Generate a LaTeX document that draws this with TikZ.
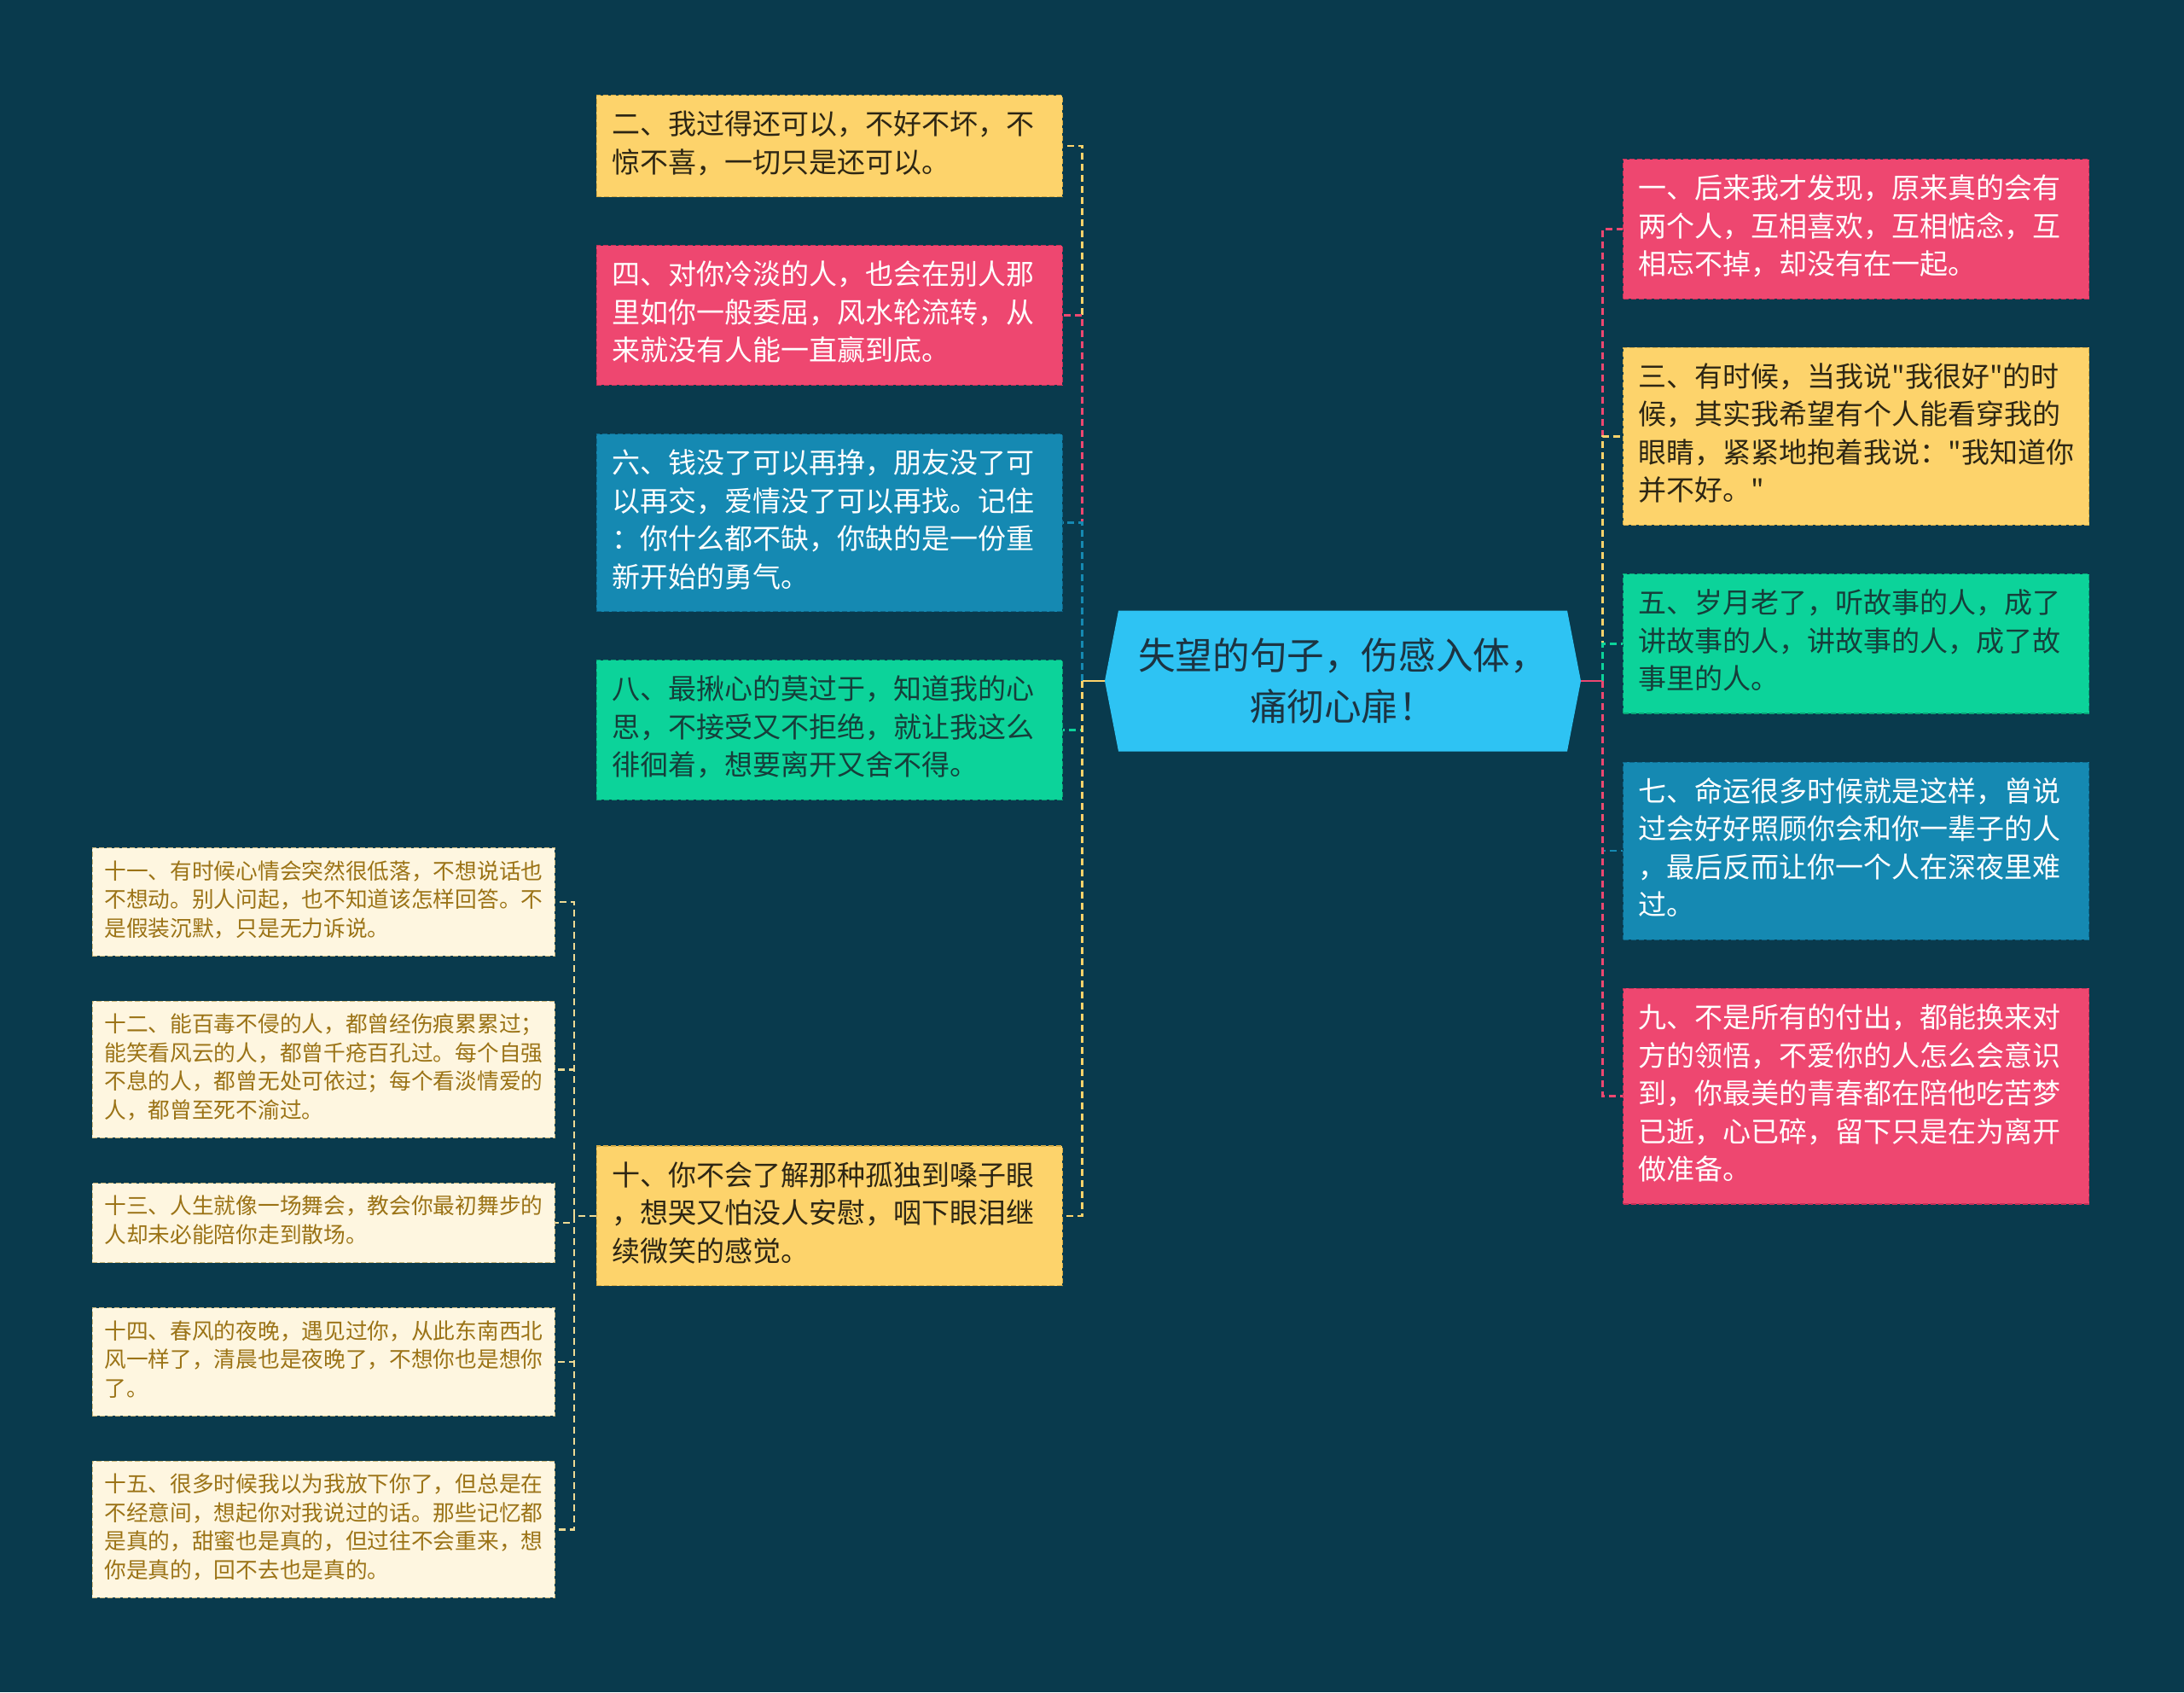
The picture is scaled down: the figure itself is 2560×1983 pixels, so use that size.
\documentclass[tikz,border=0pt]{standalone}
\usepackage{fontspec}
\setmainfont{Noto Sans CJK SC}[Ligatures=TeXOff]
\usetikzlibrary{positioning}

\definecolor{bg}{RGB}{9,58,77}
\definecolor{sky}{RGB}{46,195,243}
\definecolor{skytext}{RGB}{28,52,66}
\definecolor{yel}{RGB}{253,211,107}
\definecolor{yelline}{RGB}{214,172,70}
\definecolor{yeltext}{RGB}{45,38,20}
\definecolor{rose}{RGB}{238,71,112}
\definecolor{roseline}{RGB}{196,48,88}
\definecolor{teal}{RGB}{21,137,178}
\definecolor{tealline}{RGB}{14,104,140}
\definecolor{mint}{RGB}{12,211,154}
\definecolor{mintline}{RGB}{8,165,118}
\definecolor{minttext}{RGB}{22,62,58}
\definecolor{cream}{RGB}{254,246,224}
\definecolor{creamline}{RGB}{205,185,125}
\definecolor{creamtext}{RGB}{155,115,22}
\definecolor{creamlink}{RGB}{238,218,148}

\begin{document}
\begin{tikzpicture}[
    x=0.5pt, y=-0.5pt,
    node distance=28pt,
    box/.style={draw, dash pattern=on 3pt off 1.5pt, line width=0.6pt, align=left, text width=255pt, inner xsep=9pt, inner ysep=7.5pt, font=\fontsize{16.5pt}{22.25pt}\selectfont, execute at begin node=\strut, execute at end node=\strut},
    yellowbox/.style={box, fill=yel, draw=yelline, text=yeltext},
    rosebox/.style={box, fill=rose, draw=roseline, text=white},
    tealbox/.style={box, fill=teal, draw=tealline, text=white},
    mintbox/.style={box, fill=mint, draw=mintline, text=minttext},
    smallbox/.style={box, fill=cream, draw=creamline, text=creamtext, text width=257pt, inner xsep=7pt, inner ysep=6.5pt, font=\fontsize{12.85pt}{16.75pt}\selectfont},
    title/.style={minimum width=279pt, minimum height=82.5pt, align=center, text=skytext, font=\fontsize{21.8pt}{30pt}\selectfont,
        path picture={\fill[sky] ([xshift=8pt]path picture bounding box.north west) -- ([xshift=-8pt]path picture bounding box.north east) -- (path picture bounding box.east) -- ([xshift=-8pt]path picture bounding box.south east) -- ([xshift=8pt]path picture bounding box.south west) -- (path picture bounding box.west) -- cycle;}},
    link/.style={line width=1.25pt, dash pattern=on 4pt off 2.5pt},
    stem/.style={line width=1.25pt}
]
\fill[bg] (0,0) rectangle (2560,1983);

\node[title] (root) at (1574,798) {失望的句子，伤感入体，\\痛彻心扉！};

% left branch
\node[yellowbox, anchor=north east] (two) at (1246,111) {二、我过得还可以，不好不坏，不\\惊不喜，一切只是还可以。};
\node[rosebox, below=of two] (four) {四、对你冷淡的人，也会在别人那\\里如你一般委屈，风水轮流转，从\\来就没有人能一直赢到底。};
\node[tealbox, below=of four] (six) {六、钱没了可以再挣，朋友没了可\\以再交，爱情没了可以再找。记住\\：你什么都不缺，你缺的是一份重\\新开始的勇气。};
\node[mintbox, below=of six] (eight) {八、最揪心的莫过于，知道我的心\\思，不接受又不拒绝，就让我这么\\徘徊着，想要离开又舍不得。};
\node[yellowbox, below=202.3pt of eight] (ten) {十、你不会了解那种孤独到嗓子眼\\，想哭又怕没人安慰，咽下眼泪继\\续微笑的感觉。};

% right branch
\node[rosebox, anchor=north west] (one) at (1902,186) {一、后来我才发现，原来真的会有\\两个人，互相喜欢，互相惦念，互\\相忘不掉，却没有在一起。};
\node[yellowbox, below=of one] (three) {三、有时候，当我说"我很好"的时\\候，其实我希望有个人能看穿我的\\眼睛，紧紧地抱着我说："我知道你\\并不好。"};
\node[mintbox, below=of three] (five) {五、岁月老了，听故事的人，成了\\讲故事的人，讲故事的人，成了故\\事里的人。};
\node[tealbox, below=of five] (seven) {七、命运很多时候就是这样，曾说\\过会好好照顾你会和你一辈子的人\\，最后反而让你一个人在深夜里难\\过。};
\node[rosebox, below=of seven] (nine) {九、不是所有的付出，都能换来对\\方的领悟，不爱你的人怎么会意识\\到，你最美的青春都在陪他吃苦梦\\已逝，心已碎，留下只是在为离开\\做准备。};

% sub branch of ten
\node[smallbox, anchor=north east] (eleven) at (651,993) {十一、有时候心情会突然很低落，不想说话也\\不想动。别人问起，也不知道该怎样回答。不\\是假装沉默，只是无力诉说。};
\node[smallbox, below=26pt of eleven] (twelve) {十二、能百毒不侵的人，都曾经伤痕累累过；\\能笑看风云的人，都曾千疮百孔过。每个自强\\不息的人，都曾无处可依过；每个看淡情爱的\\人，都曾至死不渝过。};
\node[smallbox, below=26pt of twelve] (thirteen) {十三、人生就像一场舞会，教会你最初舞步的\\人却未必能陪你走到散场。};
\node[smallbox, below=26pt of thirteen] (fourteen) {十四、春风的夜晚，遇见过你，从此东南西北\\风一样了，清晨也是夜晚了，不想你也是想你\\了。};
\node[smallbox, below=26pt of fourteen] (fifteen) {十五、很多时候我以为我放下你了，但总是在\\不经意间，想起你对我说过的话。那些记忆都\\是真的，甜蜜也是真的，但过往不会重来，想\\你是真的，回不去也是真的。};

\coordinate[left=13pt of root.west] (ltrunk);
\coordinate[right=12.5pt of root.east] (rtrunk);
\coordinate[left=13pt of ten.west] (strunk);

\draw[link, yel] (ltrunk) |- (two.east);
\draw[link, rose] (ltrunk) |- (four.east);
\draw[link, teal] (ltrunk) |- (six.east);
\draw[link, mint] (ltrunk) |- (eight.east);
\draw[link, yel] (ltrunk) |- (ten.east);
\draw[stem, yel] (root.west) -- (ltrunk);

\draw[link, rose] (rtrunk) |- (one.west);
\draw[link, yel] (rtrunk) |- (three.west);
\draw[link, mint] (rtrunk) |- (five.west);
\draw[link, teal] (rtrunk) |- (seven.west);
\draw[link, rose] (rtrunk) |- (nine.west);
\draw[stem, rose] (root.east) -- (rtrunk);

\draw[link, creamlink] (ten.west) -- (strunk);
\draw[link, creamlink] (strunk) |- (eleven.east);
\draw[link, creamlink] (strunk) |- (twelve.east);
\draw[link, creamlink] (strunk) |- (thirteen.east);
\draw[link, creamlink] (strunk) |- (fourteen.east);
\draw[link, creamlink] (strunk) |- (fifteen.east);
\end{tikzpicture}
\end{document}
